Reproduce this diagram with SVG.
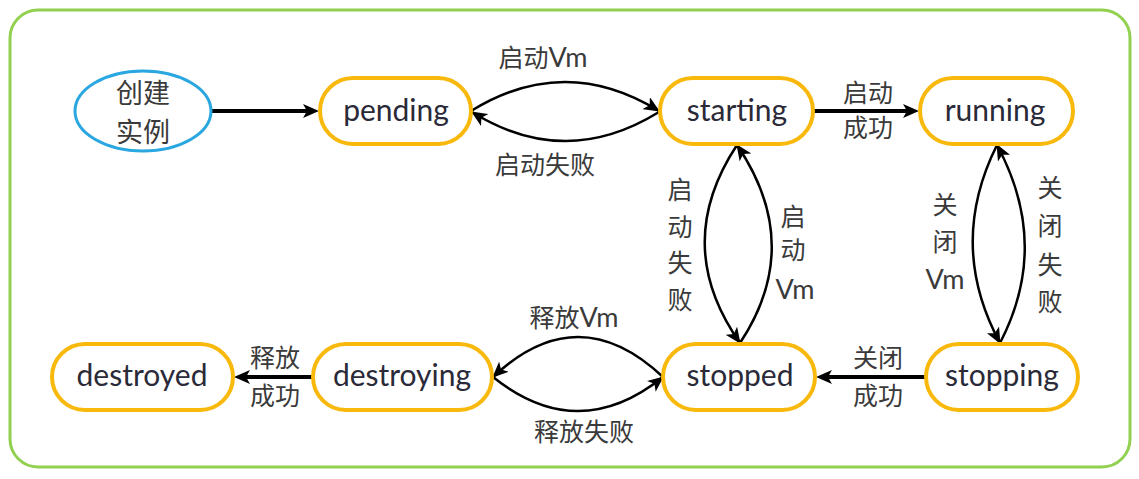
<svg xmlns="http://www.w3.org/2000/svg" width="1139" height="479" viewBox="0 0 1139 479">
<style>
.frame{fill:#fff;stroke:#92d050;stroke-width:3}
.box{fill:#fff;stroke:#f8b90c;stroke-width:4}
.start{fill:#fff;stroke:#2aa7e0;stroke-width:3}
.en{font-family:Lato,"Liberation Sans",sans-serif;font-size:30px;fill:#2a2a38;text-anchor:middle}
.zh{font-family:Lato,"Noto Sans CJK SC",sans-serif;font-size:25px;fill:#3a3a3a;text-anchor:middle}
.vm{font-size:27px}
.zh2{font-family:"Noto Sans CJK SC",sans-serif;font-size:27px;fill:#3a3a3a;text-anchor:middle}
.thick{fill:none;stroke:#000;stroke-width:4;marker-end:url(#ah)}
.curve{fill:none;stroke:#000;stroke-width:2.5;marker-end:url(#ac)}
</style>
<defs>
<marker id="ah" markerUnits="userSpaceOnUse" viewBox="0 0 16 14" markerWidth="16" markerHeight="14" refX="4" refY="7" orient="auto">
<path d="M0,0 L16,7 L0,14 L4,7 z" fill="#000"/>
</marker>
<marker id="ac" markerUnits="userSpaceOnUse" viewBox="0 0 16 14" markerWidth="16" markerHeight="14" refX="15" refY="7" orient="auto">
<path d="M0,0 L16,7 L0,14 L4,7 z" fill="#000"/>
</marker>
</defs>
<rect class="frame" x="10" y="10" width="1120" height="457" rx="28"/>

<g id="connectors">
<path class="thick" d="M212,111 L307,111"/>
<path class="thick" d="M813,111 L907,111"/>
<path class="thick" d="M926,377 L828,377"/>
<path class="thick" d="M313,377 L246,377"/>
<path class="curve" d="M471,111 Q565,53 659,111"/>
<path class="curve" d="M659,112 Q565,170 472,112"/>
<path class="curve" d="M737,145 Q671,245 740,343"/>
<path class="curve" d="M740,343 Q805,245 737,145"/>
<path class="curve" d="M997,145 Q947,245 1000,343"/>
<path class="curve" d="M1000,343 Q1051,245 997,145"/>
<path class="curve" d="M663,377 Q578,297 493,377"/>
<path class="curve" d="M493,377 Q578,445 663,377"/>
<text class="zh" x="543" y="67">启动<tspan class="vm">Vm</tspan></text>
<text class="zh" x="545" y="174">启动失败</text>
<text class="zh" x="868" y="102">启动</text>
<text class="zh" x="868" y="137">成功</text>
<text class="zh" x="878" y="367">关闭</text>
<text class="zh" x="878" y="405">成功</text>
<text class="zh" x="275" y="367">释放</text>
<text class="zh" x="275" y="405">成功</text>
<text class="zh" x="574" y="327">释放<tspan class="vm">Vm</tspan></text>
<text class="zh" x="584" y="441">释放失败</text>
<text class="zh" x="680" y="199">启</text>
<text class="zh" x="680" y="236">动</text>
<text class="zh" x="680" y="272">失</text>
<text class="zh" x="680" y="309">败</text>
<text class="zh" x="793" y="226">启</text>
<text class="zh" x="793" y="259">动</text>
<text class="zh vm" x="795" y="299">Vm</text>
<text class="zh" x="945" y="214">关</text>
<text class="zh" x="945" y="251">闭</text>
<text class="zh vm" x="945" y="289">Vm</text>
<text class="zh" x="1050" y="197">关</text>
<text class="zh" x="1050" y="235">闭</text>
<text class="zh" x="1050" y="274">失</text>
<text class="zh" x="1050" y="311">败</text>
</g>

<g id="create">
<ellipse class="start" cx="143" cy="111" rx="68" ry="40"/>
<text class="zh2" x="143" y="103">创建</text>
<text class="zh2" x="143" y="142">实例</text>
</g>
<g id="pending">
<rect class="box" x="320" y="78" width="151" height="66" rx="33"/>
<text class="en" x="396" y="121">pending</text>
</g>
<g id="starting">
<rect class="box" x="660" y="78" width="153" height="66" rx="33"/>
<text class="en" x="737" y="121">starting</text>
</g>
<g id="running">
<rect class="box" x="920" y="78" width="153" height="66" rx="33"/>
<text class="en" x="995" y="121">running</text>
</g>
<g id="destroyed">
<rect class="box" x="52" y="344" width="181" height="66" rx="33"/>
<text class="en" x="142" y="386">destroyed</text>
</g>
<g id="destroying">
<rect class="box" x="313" y="344" width="179" height="66" rx="33"/>
<text class="en" x="402" y="386">destroying</text>
</g>
<g id="stopped">
<rect class="box" x="663" y="344" width="152" height="66" rx="33"/>
<text class="en" x="740" y="386">stopped</text>
</g>
<g id="stopping">
<rect class="box" x="926" y="344" width="152" height="66" rx="33"/>
<text class="en" x="1002" y="386">stopping</text>
</g>
</svg>
